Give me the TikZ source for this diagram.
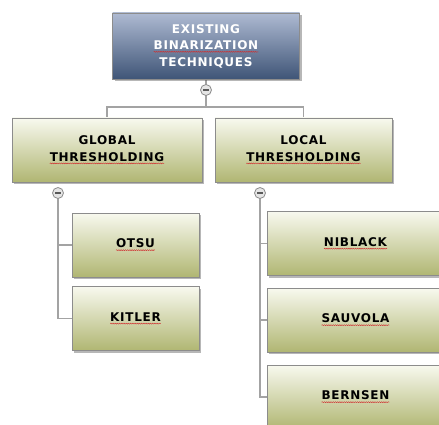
\documentclass[tikz,border=0pt]{standalone}
\usepackage{fontspec}
\newfontfamily\boxfont{DejaVu Sans}[LetterSpace=6]
\usetikzlibrary{positioning, shadows, decorations.pathmorphing}

\definecolor{rimgray}{HTML}{8C8C8C}
\definecolor{linkgray}{HTML}{A3A3A3}
\definecolor{rootTop}{HTML}{AEBAD2}
\definecolor{rootBot}{HTML}{3F5577}
\definecolor{leafTop}{HTML}{F8F9EF}
\definecolor{leafBot}{HTML}{B0B672}
\definecolor{markred}{HTML}{D03030}

% red wavy mark under a word
\newcommand\wavy[1]{\tikz[baseline=(w.base)]{%
  \node[inner sep=0pt, outer sep=0pt, minimum width=0pt, minimum height=0pt, align=left](w){#1};
  \draw[markred, line width=0.45pt, decorate, decoration={snake, amplitude=0.5pt, segment length=2.2pt}]
    ([yshift=-2.2pt]w.base west) -- ([yshift=-2.2pt]w.base east);}}

\tikzset{
  box/.style={draw=rimgray, line width=0.9pt, align=center,
    font=\boxfont\bfseries\fontsize{12}{16.5}\selectfont,
    drop shadow={shadow xshift=2pt, shadow yshift=-2pt, opacity=0.4, fill=black!70}},
  rootbox/.style={box, minimum width=187, minimum height=66,
    top color=rootTop, bottom color=rootBot, text=white},
  catbox/.style={box, minimum height=64, top color=leafTop, bottom color=leafBot},
  leafbox/.style={box, minimum width=127, minimum height=64, top color=leafTop, bottom color=leafBot},
  link/.style={draw=linkgray, line width=1.6pt},
  fold/.style={circle, draw=rimgray, fill=gray!20, line width=0.8pt, inner sep=0pt, minimum size=11,
    path picture={\draw[line width=1.5pt, black!65]
      ([xshift=-2.8pt]path picture bounding box.center) -- ([xshift=2.8pt]path picture bounding box.center);}}
}

\begin{document}
\begin{tikzpicture}[x=1pt, y=-1pt]
\useasboundingbox (0,0) rectangle (439,425);
\clip (0,0) rectangle (439,425);

% connectors first
\coordinate (split) at (206,107);
\draw[link] (206,79) -- (split);
\draw[link] (107,118) |- (split) -| (303.5,118);
\draw[link] (58,193) |- (72,245);
\draw[link] (58,193) |- (72,318.5);
\draw[link] (260,193) |- (267,243.5);
\draw[link] (260,193) |- (267,320);
\draw[link] (260,193) |- (267,397);

% boxes
\node[rootbox] (techniques) at (206,46) {EXISTING\\\wavy{BINARIZATION}\\TECHNIQUES};
\node[catbox, minimum width=190] (global) at (107,150) {GLOBAL\\\wavy{THRESHOLDING}};
\node[catbox, minimum width=177] (local) at (303.5,150) {LOCAL\\\wavy{THRESHOLDING}};

\node[leafbox] (otsu) at (135.5,245) {\wavy{OTSU}};
\node[leafbox] (kitler) at (135.5,318.5) {\wavy{KITLER}};

\node[leafbox, minimum width=177] (niblack) at (355.5,243.5) {\wavy{NIBLACK}};
\node[leafbox, minimum width=177] (sauvola) at (355.5,320) {\wavy{SAUVOLA}};
\node[leafbox, minimum width=177] (bernsen) at (355.5,397) {\wavy{BERNSEN}};

% collapse buttons
\node[fold] (fold0) at (206,90) {};
\node[fold] (fold1) at (58,193) {};
\node[fold] (fold2) at (260,193) {};
\end{tikzpicture}
\end{document}
